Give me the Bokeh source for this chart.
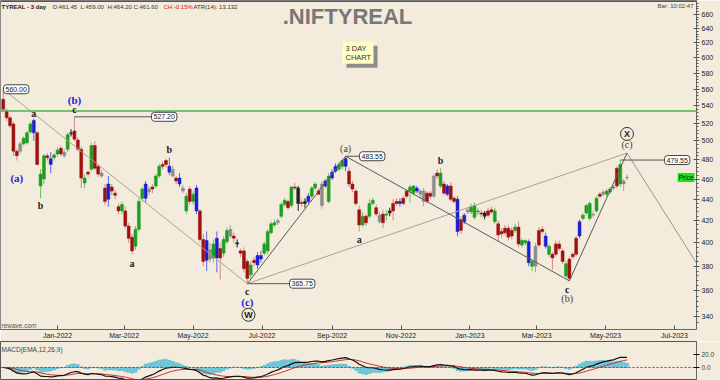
import numpy as np
import pandas as pd
from bokeh.plotting import figure
from bokeh.models import (Range1d, FixedTicker, PrintfTickFormatter, DatetimeTickFormatter,
                          MonthsTicker, Label, Span, ColumnDataSource, BoxAnnotation)
from bokeh.layouts import column
from bokeh.embed import file_html
from bokeh.resources import INLINE

# ---------------- data (3-day bars, NIFTY REALTY) ----------------
start_date = "2021-11-14"
opens = [548,534,526,519,489,489,497,498,510,509,
         509,465,460,484,481,482,486,492,488,491,
         508,511,501,491,456,467,470,495,473,466,
         451,440,452,446,433,429,429,415,405,397,
         412,441,441,450,452,453,463,475,479,473,
         470,461,461,451,429,450,438,451,429,403,
         385,394,387,387,395,391,401,412,406,400,
         393,393,384,373,385,381,386,391,393,409,
         416,420,424,435,438,434,451,451,437,436,
         438,443,455,448,455,453,438,461,468,470,
         473,473,468,455,448,430,416,424,424,436,
         432,425,418,426,429,429,438,438,436,443,
         448,453,451,448,448,446,446,443,466,466,
         455,453,453,441,440,411,419,428,428,434,
         429,427,427,425,430,429,417,410,409,413,
         406,411,414,398,402,401,384,380,398,412,
         406,397,390,390,399,393,382,386,388,390,
         406,422,427,436,426,429,443,445,448,447,
         452,453,455,455,461.45]
highs = [560,537,528,522,491,499,505,511,521,525,
         511,470,486,487,488,487,493,495,491,509,
         513,527.2,504,494,465,469,498,500,476,469,
         455,463,455,449,436,438,433,418,408,415,
         441,452,458,453,455,465,476,478,481,482,
         474,463,466,454,446,453,448,454,431,408,
         410,400,403,410,400,406,414,416,409,403,
         395,396,386,384,388,392,393,401,412,419,
         421,422,437,441,440,453,456,453,440,441,
         446,453,457,451,458,460,466,470,476,478,
         481,483.55,472,458,450,434,428,426,440,442,
         435,428,430,430,432,440,441,441,443,450,
         454,454,453,450,451,448,448,465,470,471,
         458,455,457,443,443,424,427,432,436,437,
         432,430,429,432,433,432,420,413,416,416,
         414,417,419,404,403,403,386,400,414,415,
         409,399,392,402,402,395,384,388,392,406,
         421,427,436,438,429,443,447,449,450,452,
         454,473,479.55,460,464.2]
lows = [534,522,514,484,479,486,495,496,508,500,
        474,441,455,479,466,479,483,484,482,488,
        505,500,489,451,451,462,468,469,462,461,
        435,433,444,440,426,426,413,400,390,394,
        410,438,437,444,446,451,461,470,472,464,
        462,455,452,446,426,435,435,426,400,380,
        376,383,383,375,369,388,399,404,400,396,
        388,375,365.75,370,380,378,383,389,390,407,
        414,416,422,433,430,432,449,429,433,432,
        436,441,449,444,431,451,436,459,466,468,
        470,468,452,447,434,410,414,415,422,434,
        424,417,413,420,424,420,434,433,434,441,
        437,444,446,441,433,436,440,441,460,451,
        444,443,438,436,405.8,408,417,426,426,421,
        425,423,421,423,426,417,401,404,407,402,
        403,409,396,396,398,380,376,375,396,408,
        395,388,377,388,393,382,370,368,386,388,
        404,420,425,420,423,427,441,443,443,445,
        449,451,452,448,459.0]
closes = [536,526,517,489,484,497,503,509,519,523,
          475,453,484,482,475,485,490,486,484,507,
          509,502,491,461,461,465,495,471,465,463,
          438,455,448,444,429,435,415,404,393,412,
          438,450,455,447,450,463,473,473,475,467,
          463,458,455,448,443,438,445,429,403,384,
          402,386,399,404,387,403,411,406,404,399,
          391,378,370,381,383,389,389,399,410,417,
          418,418,435,439,432,452,452,436,436,438,
          443,451,451,445,434,458,463,467,473,475,
          479,481,455,450,436,416,424,418,436,439,
          426,419,426,425,427,436,436,436,441,448,
          452,446,448,445,438,438,443,463,463,453,
          446,445,440,438,410,421,425,430,433,423,
          428,426,424,429,428,419,407,408,413,405,
          411,414,399,402,400,383,380,397,411,410,
          397,390,387,399,395,384,372,370,390,404,
          419,425,434,422,425,441,445,447,445,450,
          451,471,475,458,461.6]
# bar class: u=up, d=down, o=outside bar, i=inside bar, n=doji
bar_types = list("dddddiuuuo" "duudouudiu" "ndddududdi" "dodddudddu"
                 "uuoiduuddo" "idoiuduodd" "oiuoduuidn" "dddudoouuu"
                 "uiuududndn" "ouudiouoou" "uoddddud" "uudidunddo"
                 "ddu" "uoiiddidudo" "ddodoiuuudn" "ddudddddud"
                 "uuouiddoud" "dddudddouu" "uiudiuuudu" "iuouu")
green_level = 534.0
apex_price = 487.0
proj_date, proj_price = "2023-08-01", 365.75

# ---------------- helpers ----------------
N = len(closes)
dates = pd.date_range(start_date, periods=N, freq="3D")
DAY = 86400000.0
T0 = pd.Timestamp("2022-01-01")
PXD = 1.13
def ms(ts):
    return pd.Timestamp(ts).value / 1e6
def dx(px):
    return ms(T0 + pd.Timedelta(days=(px - 57) / PXD))
def py(px):
    return float(np.exp((2967.7 - px) / 455.0))
def off(price, dpx):
    return float(price * np.exp(-dpx / 455.0))
X = [ms(d) for d in dates]

BG = "#f3ebdb"
FRAME_BOTTOM = 328
p = figure(width=720, height=341, x_axis_type="datetime", y_axis_type="log",
           x_range=Range1d(dx(0), dx(696)), y_range=Range1d(py(FRAME_BOTTOM), py(0)),
           output_backend="svg", toolbar_location=None, y_axis_location="right",
           background_fill_color=BG, border_fill_color=BG,
           min_border_left=0, min_border_right=24, min_border_top=0, min_border_bottom=0)
p.grid.visible = False
p.outline_line_color = "#8a8a8a"
p.yaxis.ticker = FixedTicker(ticks=list(range(340, 680, 20)), minor_ticks=list(range(336, 680, 4)))
p.yaxis.formatter = PrintfTickFormatter(format="%d")
p.yaxis.major_label_text_font_size = "7px"
p.yaxis.major_label_text_font = "Liberation Sans"
p.yaxis.major_label_text_color = "#222"
p.yaxis.major_label_standoff = 2
p.yaxis.major_tick_in = 3
p.yaxis.major_tick_out = 3
p.yaxis.minor_tick_in = 0
p.yaxis.minor_tick_out = 2
p.yaxis.axis_line_color = "#666"
p.yaxis.major_tick_line_color = "#555"
p.yaxis.minor_tick_line_color = "#555"

p.xaxis.ticker = MonthsTicker(months=[0, 2, 4, 6, 8, 10])
fmt = "%b-%Y"
p.xaxis.formatter = DatetimeTickFormatter(days=fmt, months=fmt, years=fmt)
p.xaxis.major_label_text_font_size = "7px"
p.xaxis.major_label_text_font = "Liberation Sans"
p.xaxis.major_label_text_color = "#222"
p.xaxis.major_tick_in = 4
p.xaxis.major_tick_out = 0
p.xaxis.minor_tick_line_color = None
p.xaxis.major_label_standoff = 2
p.xaxis.axis_line_color = "#666"
p.xaxis.major_tick_line_color = "#555"

# dark top edge of the window
p.add_layout(BoxAnnotation(top=py(0), bottom=py(1.5), fill_color="#555555", fill_alpha=1,
                           line_color=None))

# ---------------- candles ----------------
BODY = {"u": "#1e9e1e", "d": "#a01010", "o": "#1c1cd0", "i": "#8c8c8c", "n": "#202020"}
WICK = {"u": "#6fc06f", "d": "#d08c8c", "o": "#6464dc", "i": "#a6a6a6", "n": "#202020"}
o = np.array(opens, float); h = np.array(highs, float)
l = np.array(lows, float); c = np.array(closes, float)
src = ColumnDataSource(dict(x=X, top=np.maximum(o, c), bottom=np.minimum(o, c), high=h, low=l,
                            body=[BODY[t] for t in bar_types], wick=[WICK[t] for t in bar_types]))
p.segment(x0="x", y0="low", x1="x", y1="high", line_color="wick", line_width=1, source=src)
p.vbar(x="x", width=2.6 * DAY, top="top", bottom="bottom", fill_color="body",
       line_color="body", line_width=0.5, source=src)

# ---------------- wave lines ----------------
iW, iA, iB, iC = 72, 101, 167, N - 1
LIGHT, DARK = "#a9a393", "#5a5a5a"
p.add_layout(Span(location=green_level, dimension="width", line_color="#4fb04f", line_width=1.5))
p.line([X[0], X[iW]], [h[0], l[iW]], line_color=LIGHT, line_width=1)
p.line([X[iW], X[iA]], [l[iW], h[iA]], line_color=DARK, line_width=1)
p.line([X[iW], X[iC]], [l[iW], apex_price], line_color=LIGHT, line_width=1)
p.line([X[iA], X[iB]], [h[iA], l[iB]], line_color=DARK, line_width=1)
p.line([X[iB], X[iC]], [l[iB], apex_price], line_color=DARK, line_width=1)
p.line([X[iC], ms(proj_date)], [apex_price, proj_price], line_color="#9a968a", line_width=1)

def boxlabel(xv, yv, text, align="left"):
    p.add_layout(Label(x=xv, y=yv, text=text, text_font_size="7px",
                       text_font="Liberation Sans", text_color="#222", text_align=align,
                       text_baseline="middle", background_fill_color="white",
                       border_line_color="#444", border_line_width=1, padding=2, border_radius=3))
def vlabel(i, val, px_end):
    p.line([X[i], dx(px_end)], [val, val], line_color="#555", line_width=1)
    boxlabel(dx(px_end), val, f"{val:.2f}")
vlabel(21, h[21], 151)
vlabel(iW, l[iW], 289)
vlabel(iA, h[iA], 359)
vlabel(182, h[182], 664)
boxlabel(dx(3), h[0], f"{h[0]:.2f}")

def wlabel(txt, xval, yval, color="#222", size="10px", style="bold", font="Liberation Serif"):
    p.add_layout(Label(x=xval, y=yval, text=txt, text_font_size=size, text_font=font,
                       text_font_style=style, text_color=color, text_align="center",
                       text_baseline="middle"))
BLUE = "#2222dd"
wlabel("(a)", X[4], off(l[4], 17), BLUE, "11px")
wlabel("a", X[9], off(h[9], -5))
wlabel("b", X[11], off(l[11], 7))
wlabel("(b)", X[21], off(h[21], -17), BLUE, "11px")
wlabel("c", X[21], off(h[21], -7))
wlabel("a", X[38], off(l[38], 9))
wlabel("b", X[49], off(h[49], -8))
wlabel("c", X[iW], off(l[iW], 8))
wlabel("(c)", X[iW], off(l[iW], 18), BLUE, "11px")
wlabel("(a)", X[iA], off(h[iA], -8), "#444", "10px", "normal")
wlabel("a", X[105], off(l[105], 8))
wlabel("b", X[129], off(h[129], -8))
wlabel("c", X[iB] - DAY * 2, off(l[iB], 9))
wlabel("(b)", X[iB] - DAY * 2, off(l[iB], 18), "#444", "10px", "normal")
wlabel("(c)", X[iC], off(apex_price, -8), "#444", "10px", "normal")
p.scatter([X[iW] + DAY, X[iC]], [off(l[iW], 31), off(apex_price, -19)], marker="circle",
          size=13, fill_color=None, line_color="#333", line_width=1)
wlabel("W", X[iW] + DAY, off(l[iW], 31), "#222", "9px", "bold", "Liberation Sans")
wlabel("X", X[iC], off(apex_price, -19), "#222", "9px", "bold", "Liberation Sans")

# ---------------- header texts ----------------
def txt(t, px, ypx, size="6px", color="#222", style="normal", align="left", font="Liberation Sans"):
    p.add_layout(Label(x=dx(px), y=py(ypx), text=t, text_font_size=size, text_font=font,
                       text_font_style=style, text_color=color, text_align=align,
                       text_baseline="middle"))
txt("TYREAL - 3 day", 1, 6.5, style="bold")
txt(f"O:{opens[-1]:.2f}", 52, 6.5, color="#333")
txt(f"L:{lows[-1]:.2f}", 80, 6.5, color="#333")
txt(f"H:{highs[-1]:.2f}", 107, 6.5, color="#333")
txt(f"C:{closes[-1]:.2f}", 133, 6.5, color="#333")
txt("CH:-0.15%", 163, 6.5, color="#e01010")
txt("ATR(14): 13.132", 193, 6.5, color="#333")
txt(".NIFTYREAL", 347, 15.5, size="22px", color="#777777", style="bold", align="center")
txt("Bar: 10:02:47", 693, 5.5, size="6px", color="#444", align="right")
txt("rewave.com", 1, 324, size="6.5px", color="#555")

p.add_layout(BoxAnnotation(left=dx(346), right=dx(377), top=py(45), bottom=py(67),
                           fill_color="#8c8c8c", fill_alpha=1, line_color=None))
p.add_layout(BoxAnnotation(left=dx(342), right=dx(373), top=py(41), bottom=py(63),
                           fill_color="#ffffc4", fill_alpha=1, line_color=None))
txt("3 DAY", 345, 47.5, size="7.5px", color="#333")
txt("CHART", 345, 57, size="7.5px", color="#333")

p.add_layout(Label(x=dx(694), y=c[-1], text="Price", text_font_size="6.5px",
                   text_font="Liberation Sans", text_color="#111", text_align="right",
                   text_baseline="middle", background_fill_color="#19e619", padding=1))

# ---------------- MACD panel ----------------
cs = pd.Series(c)
macd = cs.ewm(span=12, adjust=False).mean() - cs.ewm(span=26, adjust=False).mean()
signal = macd.ewm(span=9, adjust=False).mean()
hist = macd - signal

q = figure(width=720, height=39, x_axis_type="datetime", x_range=p.x_range,
           y_range=Range1d(-18.5, 40), output_backend="svg", toolbar_location=None,
           y_axis_location="right", background_fill_color=BG, border_fill_color=BG,
           min_border_left=0, min_border_right=24, min_border_top=0, min_border_bottom=1)
# histogram drawn on its own scale (zero aligned with the MACD zero line)
q.extra_y_ranges = {"hist": Range1d(-18.5 / 1.6, 40 / 1.6)}
q.grid.visible = False
q.xaxis.visible = False
q.outline_line_color = "#555"
q.yaxis.ticker = FixedTicker(ticks=[0, 20])
q.yaxis.formatter = PrintfTickFormatter(format="%.1f")
q.yaxis.major_label_text_font_size = "6.5px"
q.yaxis.major_label_text_font = "Liberation Sans"
q.yaxis.major_label_standoff = 2
q.yaxis.major_tick_in = 3
q.yaxis.major_tick_out = 3
q.yaxis.minor_tick_line_color = None
q.yaxis.axis_line_color = "#666"
q.vbar(x=X, top=hist.values, bottom=0, width=2.4 * DAY, fill_color="#72cde2",
       line_color="#3fa8c4", line_width=0.5, y_range_name="hist")
q.add_layout(Span(location=0, dimension="width", line_color="#555", line_dash="2 2", line_width=1))
q.line(X, signal.values, line_color="#c83232", line_width=1)
q.line(X, macd.values, line_color="#111", line_width=1.2)
q.add_layout(Label(x=dx(1), y=28, text="MACD(EMA,12,26,9)", text_font_size="6.5px",
                   text_font="Liberation Sans", text_color="#444", text_baseline="middle"))

layout = column(p, q)
open("out.html", "w").write(file_html(layout, INLINE))
